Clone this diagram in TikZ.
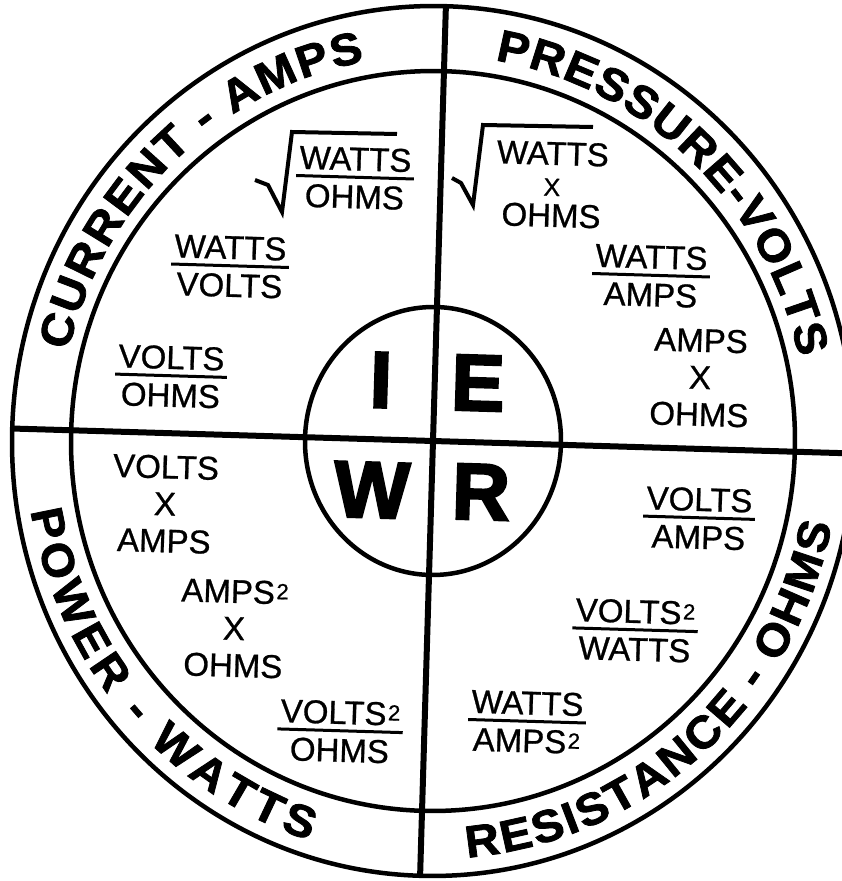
\documentclass[tikz,border=0pt]{standalone}
\usepackage{fontspec}
\setmainfont{Liberation Sans}
\newfontfamily\formfont{Liberation Sans}[FakeBold=0.8]
\newfontfamily\ringfont{Liberation Sans Bold}[FakeStretch=1.06,FakeBold=1.8]
\newfontfamily\hubfont{Liberation Sans Bold}[FakeBold=3]
\usetikzlibrary{shapes.geometric,decorations.text}
\newcommand\sq{\kern1.5pt\raisebox{5pt}{\fontsize{22}{22}\selectfont 2}}
\newcommand\fr[2]{%
  \setbox0=\hbox{#1}\setbox2=\hbox{#2}%
  \dimen0=\wd0 \ifdim\wd2>\dimen0 \dimen0=\wd2 \fi
  \advance\dimen0 by 6pt
  \vbox{\offinterlineskip
    \hbox to\dimen0{\hss\box0\hss}%
    \kern5pt
    \hrule height3pt width\dimen0
    \kern6.5pt
    \hbox to\dimen0{\hss\box2\hss}}}
\tikzset{
  form/.style={font=\formfont\fontsize{33}{37}\selectfont, inner sep=0pt, rotate=-1.7},
  hubl/.style={font=\hubfont\fontsize{80}{80}\selectfont, inner sep=0pt, rotate=-1.7},
  ring/.style={draw, ellipse, inner sep=0pt, outer sep=0pt, line width=4.5pt, rotate=-1.7},
  cross/.style={line width=6pt},
  radical/.style={line width=4pt},
}
\begin{document}
\begin{tikzpicture}[x=1pt,y=1pt]
\useasboundingbox (-433,-440) rectangle (409,441);
\fill[white] (-433,-440) rectangle (409,441);
\clip (-433,-440) rectangle (409,441);
% rings and hub
\node[ring, minimum width=842pt, minimum height=870pt] (outer) at (0,0) {};
\node[ring, minimum width=724pt, minimum height=740pt] (inner) at (0,0) {};
\node[ring, minimum width=256pt, minimum height=268pt] (hub) at (0,0) {};
\draw[cross] (outer.north) -- (outer.south);
\draw[cross] (outer.west) -- (outer.east);
% ring texts
\path[decorate, decoration={text along path, text align=fit to path,
  text={|\ringfont\fontsize{45}{45}\selectfont|CURRENT - AMPS}}]
  (166.5:375 and 386) arc[start angle=166.5, end angle=100.5, x radius=375, y radius=386];
\path[decorate, decoration={text along path, text align=fit to path,
  text={|\ringfont\fontsize{45}{45}\selectfont|PRESSURE-VOLTS}}]
  (80.5:375 and 386) arc[start angle=80.5, end angle=12.5, x radius=375, y radius=386];
\path[decorate, decoration={text along path, text align=fit to path,
  text={|\ringfont\fontsize{45}{45}\selectfont|POWER - WATTS}}]
  (189.6:408 and 419) arc[start angle=189.6, end angle=252.4, x radius=408, y radius=419];
\path[decorate, decoration={text along path, text align=fit to path,
  text={|\ringfont\fontsize{45}{45}\selectfont|RESISTANCE - OHMS}}]
  (274.8:407 and 418) arc[start angle=274.8, end angle=348.5, x radius=407, y radius=418];
% hub letters
\node[hubl] (li) at (-52,61) {I};
\node[hubl] (le) at (45,58) {E};
\node[hubl] (lw) at (-61,-49) {W};
\node[hubl] (lr) at (48,-51) {R};
% fractions
\node[form] (f1) at (-78,263) {\fr{WATTS}{OHMS}};
\node[form] (f2) at (-203,174.5) {\fr{WATTS}{VOLTS}};
\node[form] (f3) at (-262,64.5) {\fr{VOLTS}{OHMS}};
\node[form] (f4) at (218,165) {\fr{WATTS}{AMPS}};
\node[form] (f5) at (266,-77.5) {\fr{VOLTS}{AMPS}};
\node[form] (f6) at (202,-189.5) {\fr{VOLTS\sq}{WATTS}};
\node[form] (f7) at (94,-281) {\fr{WATTS}{AMPS\sq}};
\node[form] (f8) at (-93,-290.5) {\fr{VOLTS\sq}{OHMS}};
% products
\node[form, align=center, font=\formfont\fontsize{33}{31}\selectfont] (s1) at (119,256.5) {WATTS\\{\fontsize{25}{31}\selectfont X}\\OHMS};
\node[form, align=center] (s2) at (267,63.5) {AMPS\\X\\OHMS};
\node[form, align=center] (s3) at (-268,-63) {VOLTS\\X\\AMPS};
\node[form, align=center] (s4) at (-199,-187.5) {AMPS\sq\\X\\OHMS};
% radicals
\draw[radical] (-178,261) -- (-165,256) -- (-151,229) -- (-141,309) -- (-36,307);
\draw[radical] (19,263) -- (28,258) -- (40,236) -- (50,316) -- (160,314);
\end{tikzpicture}
\end{document}
